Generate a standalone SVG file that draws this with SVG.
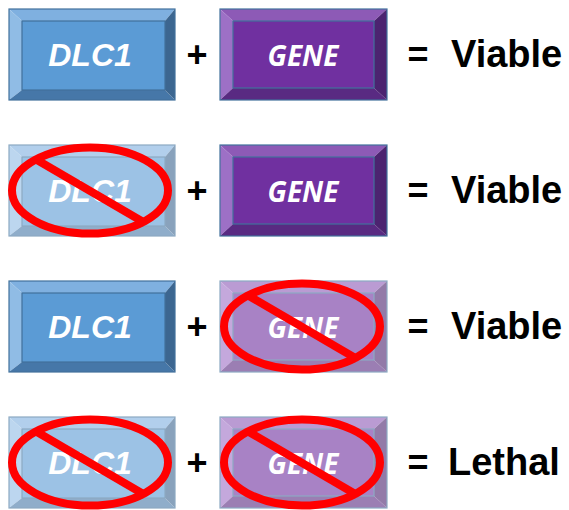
<svg xmlns="http://www.w3.org/2000/svg" width="569" height="510" viewBox="0 0 569 510">
<defs>
<style>
.bd{stroke:#41719C;stroke-width:1.2;stroke-linejoin:miter}
.b-face{fill:#5B9BD5}.b-top{fill:#7FB0E0}.b-left{fill:#90BCE5}.b-bot{fill:#4677A8}.b-right{fill:#3C6690}
.g-face{fill:#7030A0}.g-top{fill:#8D5AB6}.g-left{fill:#9D70C6}.g-bot{fill:#592A82}.g-right{fill:#4C2370}
.lbl1{font-family:"Liberation Sans",Arial,sans-serif;font-weight:bold;font-style:italic;font-size:32px;fill:#fff;text-anchor:middle}
.lbl2{font-family:"Open Sans","Noto Sans",sans-serif;font-weight:bold;font-style:italic;font-size:28px;fill:#fff;text-anchor:middle}
.op{font-family:"Liberation Sans",Arial,sans-serif;font-weight:bold;font-size:36px;fill:#000;text-anchor:middle}
.res{font-family:"Liberation Sans",Arial,sans-serif;font-weight:bold;font-size:38px;fill:#000}
.faded{opacity:0.6}
.no{fill:none;stroke:#FF0000;stroke-width:8}
</style>
<g id="blueBox">
<polygon class="b-top" points="0,0 166,0 156,12 13,12"/>
<polygon class="b-left" points="0,0 13,12 13,81 0,91"/>
<polygon class="b-bot" points="0,91 13,81 156,81 166,91"/>
<polygon class="b-right" points="166,0 166,91 156,81 156,12"/>
<rect class="b-face" x="13" y="12" width="143" height="69"/>
<rect class="bd" x="13" y="12" width="143" height="69" fill="none"/>
<rect class="bd" x="0" y="0" width="166" height="91" fill="none"/>
<text class="lbl1" x="81" y="57">DLC1</text>
</g>
<g id="purpleBox">
<polygon class="g-top" points="0,0 167,0 154,12 13,12"/>
<polygon class="g-left" points="0,0 13,12 13,79 0,91"/>
<polygon class="g-bot" points="0,91 13,79 154,79 167,91"/>
<polygon class="g-right" points="167,0 167,91 154,79 154,12"/>
<rect class="g-face" x="13" y="12" width="141" height="67"/>
<rect class="bd" x="13" y="12" width="141" height="67" fill="none"/>
<rect class="bd" x="0" y="0" width="167" height="91" fill="none"/>
<text class="lbl2" x="83" y="57">GENE</text>
</g>
<g id="noSign">
<ellipse class="no" cx="81" cy="45.5" rx="78" ry="43"/>
<line class="no" x1="28" y1="15" x2="136" y2="78"/>
</g>
</defs>

<g id="row1">
<g id="dlc1-1"><use href="#blueBox" x="9" y="9"/></g>
<text class="op" x="197" y="67">+</text>
<g id="gene-1"><use href="#purpleBox" x="220" y="9"/></g>
<text class="op" x="418" y="67">=</text>
<text class="res" x="451" y="67">Viable</text>
</g>

<g id="row2">
<g id="dlc1-2"><use href="#blueBox" x="9" y="145" class="faded"/><use href="#noSign" x="9" y="145"/></g>
<text class="op" x="197" y="203">+</text>
<g id="gene-2"><use href="#purpleBox" x="220" y="145"/></g>
<text class="op" x="418" y="203">=</text>
<text class="res" x="451" y="203">Viable</text>
</g>

<g id="row3">
<g id="dlc1-3"><use href="#blueBox" x="9" y="281"/></g>
<text class="op" x="197" y="339">+</text>
<g id="gene-3"><use href="#purpleBox" x="220" y="281" class="faded"/><use href="#noSign" x="221" y="281"/></g>
<text class="op" x="418" y="339">=</text>
<text class="res" x="451" y="339">Viable</text>
</g>

<g id="row4">
<g id="dlc1-4"><use href="#blueBox" x="9" y="417" class="faded"/><use href="#noSign" x="9" y="417"/></g>
<text class="op" x="197" y="475">+</text>
<g id="gene-4"><use href="#purpleBox" x="220" y="417" class="faded"/><use href="#noSign" x="221" y="417"/></g>
<text class="op" x="418" y="475">=</text>
<text class="res" x="448" y="475">Lethal</text>
</g>
<g id="connectors"/>
</svg>
